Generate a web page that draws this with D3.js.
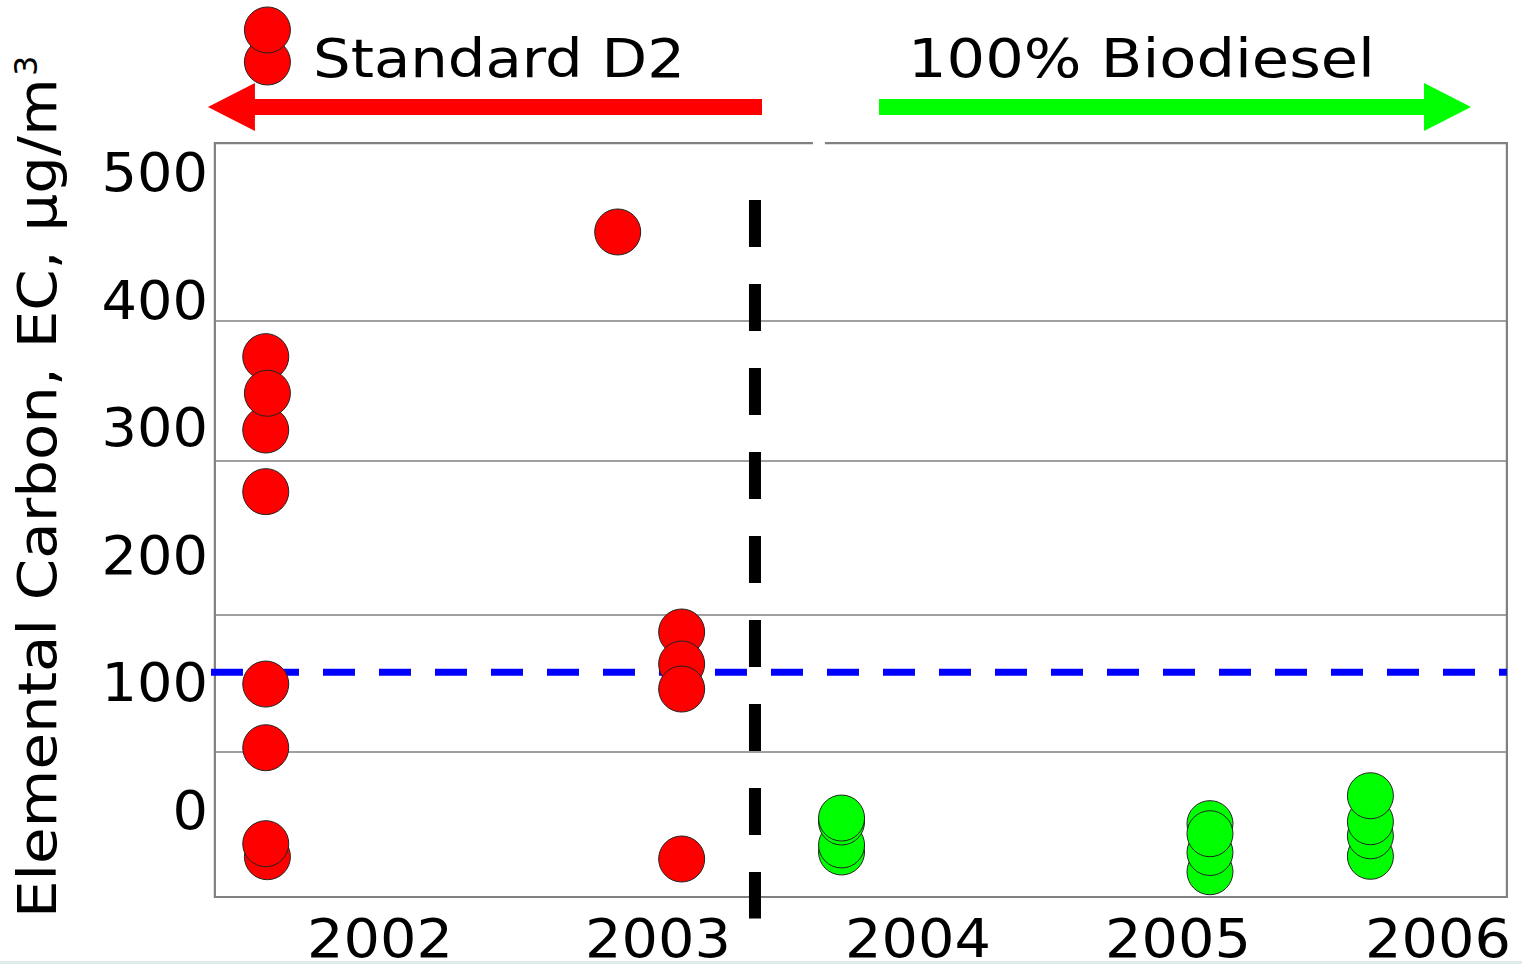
<!DOCTYPE html>
<html>
<head>
<meta charset="utf-8">
<script src="https://cdn.jsdelivr.net/npm/d3@7"></script>
<style>
  html, body { margin: 0; padding: 0; background: #fff; }
  svg { display: block; font-family: 'DejaVu Sans', sans-serif; }
</style>
</head>
<body>
<div id="chart"></div>
<script>
// values
const years = [2002, 2003, 2004, 2005, 2006];
const yTicks = [0, 100, 200, 300, 400, 500];
const gridValues = [45.5, 152.8, 273.5, 383.2];

// Standard D2 (red), in draw order
const d2Years = [2001.589, 2001.589, 2001.595, 2001.589, 2001.589, 2001.589,
  2001.595, 2001.589, 2001.595, 2001.595, 2002.855, 2003.091, 2003.091, 2003.091, 2003.091];
const d2Values = [355.3, 297.8, 326.6, 249.5, 98.7, 48.8,
  -36.6, -26.4, 586.2, 611.3, 453, 139.5, 114.4, 94.8, -38.4];

// 100% Biodiesel (green), in draw order
const bioYears = [2003.706, 2003.706, 2003.706, 2003.706,
  2005.123, 2005.123, 2005.123, 2005.123,
  2005.74, 2005.74, 2005.74, 2005.74];
const bioValues = [-32.9, -27.4, -9.4, -6.3,
  -48.4, -33.3, -10.7, -18.6,
  -36.3, -20.2, -9.2, 11.2];

const limitValue = 108;        // blue dashed line
const switchYear = 2003.373;   // black dashed line
const switchRange = [478, -85];
const xExtent = [2001.406, 2006.265];
const yExtent = [-68.2, 522.7];

const width = 1522;
const height = 964;
const r = 23;

const x = d3.scaleLinear().domain([2002, 2003, 2006]).range([380, 658, 1438]);
const y = d3.scaleLinear().domain([0, 500]).range([810, 172]);

const svg = d3.select('#chart')
  .append('svg')
  .attr('width', width)
  .attr('height', height);

svg.append('rect').attr('width', width).attr('height', height).attr('fill', '#fff');

const plotLeft = x(xExtent[0]);
const plotRight = x(xExtent[1]);
const plotTop = y(yExtent[1]);
const plotBottom = y(yExtent[0]);

// gridlines
svg.append('g')
  .selectAll('line')
  .data(gridValues)
  .join('line')
  .attr('x1', plotLeft)
  .attr('x2', plotRight)
  .attr('y1', (d) => y(d))
  .attr('y2', (d) => y(d))
  .attr('stroke', '#808080')
  .attr('stroke-width', 1.6);

// frame, top edge has a small gap like the slide
svg.append('path')
  .attr('stroke', '#808080')
  .attr('stroke-width', 2.2)
  .attr('fill', 'none')
  .attr('d', `M${x(2003.596)},${plotTop}H${plotLeft}V${plotBottom}H${plotRight}V${plotTop}H${x(2003.642)}`);

// y tick labels
svg.append('g')
  .selectAll('text')
  .data(yTicks)
  .join('text')
  .attr('x', 208)
  .attr('y', (d) => y(d))
  .attr('dy', '0.36em')
  .attr('text-anchor', 'end')
  .attr('font-size', 53)
  .attr('textLength', (d) => String(d).length * 35.5)
  .attr('lengthAdjust', 'spacingAndGlyphs')
  .text((d) => d);

// x tick labels
svg.append('g')
  .selectAll('text')
  .data(years)
  .join('text')
  .attr('x', (d) => x(d) - 73)
  .attr('y', 957)
  .attr('font-size', 53)
  .attr('textLength', 146)
  .attr('lengthAdjust', 'spacingAndGlyphs')
  .text((d) => d);

// y axis title
const title = svg.append('g').attr('transform', 'translate(56,918) rotate(-90)');
title.append('text')
  .attr('x', 0)
  .attr('y', 0)
  .attr('font-size', 53)
  .attr('textLength', 840)
  .attr('lengthAdjust', 'spacingAndGlyphs')
  .text('Elemental Carbon, EC, µg/m');
title.append('text')
  .attr('x', 842)
  .attr('y', -19)
  .attr('font-size', 32)
  .text('3');

// limit line
svg.append('line')
  .attr('x1', x(2001.392))
  .attr('x2', plotRight)
  .attr('y1', y(limitValue))
  .attr('y2', y(limitValue))
  .attr('stroke', '#0000ff')
  .attr('stroke-width', 7)
  .attr('stroke-dasharray', '32 24');

// fuel switch line
svg.append('line')
  .attr('x1', x(switchYear))
  .attr('x2', x(switchYear))
  .attr('y1', y(switchRange[0]))
  .attr('y2', y(switchRange[1]))
  .attr('stroke', '#000')
  .attr('stroke-width', 12)
  .attr('stroke-dasharray', '47 37');

// header arrows
const arrowY = 107;
const shaft = 8;
const head = 24;
svg.append('path')
  .attr('fill', '#ff0000')
  .attr('d', () => {
    const tip = x(2001.381), base = tip + 47, end = x(2003.4);
    return `M${tip},${arrowY}L${base},${arrowY - head}V${arrowY - shaft}H${end}V${arrowY + shaft}H${base}V${arrowY + head}Z`;
  });
svg.append('path')
  .attr('fill', '#00ff00')
  .attr('d', () => {
    const tip = x(2006.127), base = tip - 47, start = x(2003.85);
    return `M${tip},${arrowY}L${base},${arrowY - head}V${arrowY - shaft}H${start}V${arrowY + shaft}H${base}V${arrowY + head}Z`;
  });

svg.append('text')
  .attr('x', 313)
  .attr('y', 77)
  .attr('font-size', 53)
  .attr('textLength', 372)
  .attr('lengthAdjust', 'spacingAndGlyphs')
  .text('Standard D2');
svg.append('text')
  .attr('x', 908)
  .attr('y', 77)
  .attr('font-size', 53)
  .attr('textLength', 467)
  .attr('lengthAdjust', 'spacingAndGlyphs')
  .text('100% Biodiesel');

// points
const d2 = d2Years.map((yr, i) => ({ yr, v: d2Values[i] }));
const bio = bioYears.map((yr, i) => ({ yr, v: bioValues[i] }));

svg.append('g')
  .selectAll('circle')
  .data(d2)
  .join('circle')
  .attr('cx', (d) => x(d.yr))
  .attr('cy', (d) => y(d.v))
  .attr('r', r)
  .attr('fill', '#ff0000')
  .attr('stroke', '#222')
  .attr('stroke-width', 1);

svg.append('g')
  .selectAll('circle')
  .data(bio)
  .join('circle')
  .attr('cx', (d) => x(d.yr))
  .attr('cy', (d) => y(d.v))
  .attr('r', r)
  .attr('fill', '#00ff00')
  .attr('stroke', '#222')
  .attr('stroke-width', 1);

// faint strip at the bottom edge of the slide
svg.append('rect')
  .attr('x', 0)
  .attr('y', 961)
  .attr('width', width)
  .attr('height', 3)
  .attr('fill', '#c9dcdc')
  .attr('opacity', 0.6);
</script>
</body>
</html>
